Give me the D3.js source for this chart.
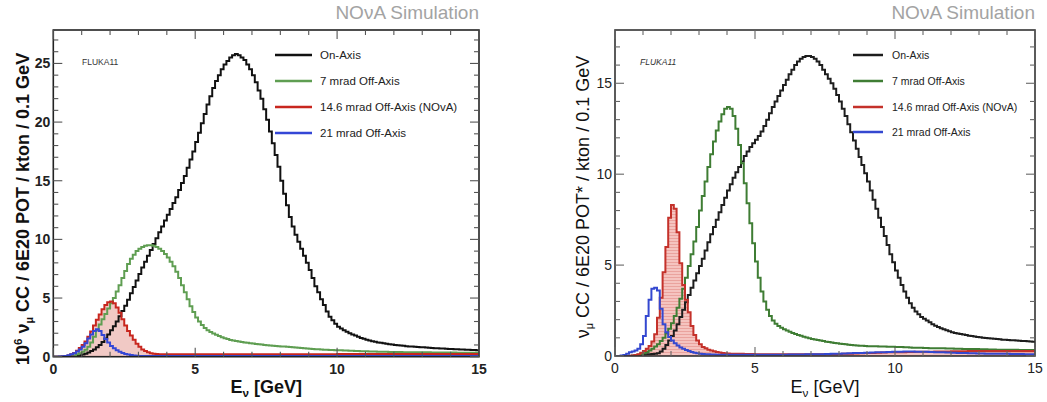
<!DOCTYPE html>
<html><head><meta charset="utf-8">
<script src="https://cdn.jsdelivr.net/npm/d3@7/dist/d3.min.js"></script>
<style>
html,body{margin:0;padding:0;background:#fff;}
svg{display:block;font-family:"Liberation Sans",Arial,sans-serif;}
</style></head><body>
<svg id="chart" width="1047" height="402"></svg>
<script>
// ---------- DATA (0.1 GeV bins, 0 .. 15 GeV) ----------
const binWidth = 0.1;
const seriesNames = ["On-Axis", "7 mrad Off-Axis", "14.6 mrad Off-Axis (NOvA)", "21 mrad Off-Axis"];
const legendNamesRight = ["On-Axis", "7 mrad Off-Axis", "14.6 mrad Off-Axis (NOvA)", "21 mrad Off-Axis"];
const xTicks = [0, 5, 10, 15];
const yTicksLeft = [0, 5, 10, 15, 20, 25];
const yTicksRight = [0, 5, 10, 15];

const leftOnAxis = [
0,0,0,0,0,0.02,0.03,0.05,0.08,0.12,
0.18,0.26,0.36,0.48,0.62,0.8,1.0,1.25,1.55,1.9,
2.25,2.6,3.0,3.45,3.9,4.35,4.85,5.4,5.95,6.5,
7.05,7.6,8.1,8.6,9.1,9.6,10.1,10.6,11.1,11.6,
12.1,12.6,13.1,13.6,14.2,14.8,15.4,16.1,16.8,17.5,
18.3,19.1,19.9,20.7,21.5,22.2,22.9,23.5,24.0,24.5,
24.9,25.2,25.5,25.7,25.8,25.7,25.5,25.3,24.9,24.5,
24.0,23.4,22.7,22.0,21.1,20.2,19.2,18.2,17.2,16.2,
15.0,13.9,12.9,11.9,11.1,10.4,9.8,9.2,8.6,8.0,
7.4,6.7,6.0,5.5,4.9,4.4,3.85,3.4,3.1,2.8,
2.55,2.4,2.25,2.12,2.0,1.9,1.8,1.7,1.6,1.52,
1.45,1.38,1.32,1.27,1.22,1.18,1.14,1.1,1.06,1.03,
1.0,0.98,0.95,0.93,0.9,0.88,0.86,0.85,0.83,0.81,
0.8,0.78,0.76,0.75,0.73,0.72,0.7,0.69,0.67,0.66,
0.65,0.64,0.63,0.62,0.61,0.6,0.59,0.58,0.57,0.56];

const left7mrad = [
0,0,0,0,0,0.01,0.04,0.1,0.2,0.3,
0.43,0.6,0.85,1.2,1.7,2.25,2.75,3.2,3.65,4.1,
4.55,5.0,5.55,6.1,6.7,7.3,7.9,8.35,8.7,9.0,
9.2,9.35,9.45,9.5,9.5,9.45,9.35,9.2,9.0,8.75,
8.45,8.1,7.7,7.25,6.7,6.1,5.5,4.9,4.3,3.8,
3.35,3.0,2.7,2.45,2.25,2.1,1.98,1.87,1.76,1.66,
1.57,1.5,1.43,1.38,1.33,1.29,1.25,1.21,1.18,1.15,
1.12,1.09,1.06,1.03,1.0,0.98,0.96,0.94,0.92,0.9,
0.88,0.86,0.84,0.82,0.8,0.78,0.76,0.74,0.72,0.7,
0.68,0.66,0.64,0.63,0.62,0.6,0.59,0.58,0.57,0.56,
0.55,0.54,0.53,0.52,0.51,0.5,0.49,0.48,0.47,0.46,
0.46,0.45,0.44,0.44,0.43,0.43,0.42,0.42,0.41,0.41,
0.4,0.4,0.4,0.39,0.39,0.39,0.38,0.38,0.38,0.37,
0.37,0.37,0.37,0.36,0.36,0.36,0.36,0.35,0.35,0.35,
0.35,0.35,0.34,0.34,0.34,0.34,0.34,0.33,0.33,0.33];

const left146mrad = [
0,0,0,0.02,0.05,0.1,0.2,0.32,0.5,0.75,
1.0,1.3,1.7,2.15,2.65,3.15,3.6,4.05,4.4,4.65,
4.7,4.55,4.2,3.75,3.2,2.65,2.2,1.8,1.45,1.1,
0.85,0.62,0.48,0.38,0.3,0.26,0.23,0.21,0.2,0.2,
0.2,0.2,0.2,0.2,0.2,0.2,0.2,0.2,0.2,0.2,
0.2,0.2,0.2,0.2,0.2,0.2,0.2,0.2,0.2,0.2,
0.2,0.2,0.2,0.2,0.2,0.2,0.2,0.2,0.2,0.2,
0.2,0.2,0.2,0.2,0.2,0.2,0.2,0.2,0.2,0.2,
0.21,0.21,0.21,0.21,0.21,0.21,0.21,0.21,0.21,0.21,
0.21,0.21,0.21,0.21,0.21,0.21,0.21,0.21,0.21,0.21,
0.22,0.22,0.22,0.22,0.22,0.22,0.22,0.22,0.22,0.22,
0.22,0.22,0.22,0.22,0.22,0.22,0.22,0.22,0.22,0.22,
0.23,0.23,0.23,0.23,0.23,0.23,0.23,0.23,0.23,0.23,
0.23,0.23,0.23,0.23,0.23,0.23,0.23,0.23,0.23,0.23,
0.24,0.24,0.24,0.24,0.24,0.24,0.24,0.24,0.24,0.24];

const left21mrad = [
0,0,0.01,0.03,0.06,0.12,0.2,0.3,0.45,0.62,
0.85,1.15,1.55,1.9,2.2,2.33,2.2,1.85,1.5,1.2,
0.92,0.72,0.55,0.42,0.32,0.24,0.18,0.14,0.1,0.08,
0.07,0.07,0.07,0.06,0.06,0.06,0.06,0.06,0.06,0.06,
0.06,0.06,0.06,0.06,0.06,0.06,0.06,0.06,0.06,0.06,
0.06,0.06,0.06,0.06,0.06,0.06,0.06,0.06,0.06,0.06,
0.06,0.06,0.06,0.06,0.06,0.06,0.06,0.06,0.06,0.06,
0.06,0.06,0.06,0.06,0.06,0.06,0.06,0.06,0.06,0.06,
0.06,0.06,0.06,0.06,0.06,0.06,0.06,0.06,0.06,0.06,
0.06,0.06,0.06,0.06,0.06,0.06,0.06,0.06,0.06,0.06,
0.06,0.06,0.06,0.06,0.06,0.06,0.06,0.06,0.06,0.06,
0.06,0.06,0.06,0.06,0.06,0.06,0.06,0.06,0.06,0.06,
0.06,0.06,0.06,0.06,0.06,0.06,0.06,0.06,0.06,0.06,
0.06,0.06,0.06,0.06,0.06,0.06,0.06,0.06,0.06,0.06,
0.06,0.06,0.06,0.06,0.06,0.06,0.06,0.06,0.06,0.06];

const rightOnAxis = [
0,0,0,0,0,0,0.02,0.03,0.05,0.07,
0.08,0.09,0.1,0.11,0.13,0.15,0.25,0.4,0.6,0.85,
1.1,1.4,1.75,2.15,2.55,2.95,3.35,3.75,4.15,4.55,
4.95,5.35,5.8,6.25,6.7,7.1,7.5,7.9,8.3,8.7,
9.1,9.45,9.8,10.1,10.4,10.7,11.0,11.25,11.5,11.7,
11.9,12.1,12.35,12.65,13.0,13.35,13.7,14.0,14.3,14.6,
14.9,15.2,15.5,15.75,16.0,16.2,16.35,16.45,16.5,16.5,
16.45,16.35,16.2,16.0,15.75,15.5,15.25,15.0,14.7,14.35,
14.0,13.6,13.2,12.75,12.3,11.85,11.4,10.95,10.5,10.05,
9.6,9.1,8.6,8.1,7.6,7.1,6.6,6.1,5.6,5.15,
4.7,4.3,3.9,3.55,3.2,2.9,2.65,2.45,2.3,2.15,
2.05,1.95,1.85,1.75,1.67,1.6,1.53,1.47,1.41,1.36,
1.31,1.27,1.24,1.21,1.18,1.15,1.12,1.1,1.07,1.05,
1.03,1.01,0.99,0.97,0.96,0.95,0.93,0.92,0.9,0.89,
0.88,0.87,0.86,0.85,0.84,0.83,0.82,0.81,0.8,0.79];

const right7mrad = [
0,0,0,0,0,0,0.02,0.04,0.07,0.1,
0.15,0.22,0.3,0.4,0.52,0.65,0.82,1.0,1.25,1.5,
1.8,2.2,2.65,3.15,3.7,4.3,4.95,5.6,6.3,7.1,
8.0,8.8,9.6,10.4,11.1,11.8,12.4,12.9,13.3,13.6,
13.7,13.6,13.2,12.5,11.6,10.6,9.5,8.4,7.3,6.2,
5.2,4.3,3.55,3.0,2.55,2.2,1.95,1.78,1.65,1.55,
1.47,1.4,1.33,1.27,1.21,1.16,1.11,1.06,1.02,0.98,
0.94,0.91,0.88,0.85,0.82,0.79,0.77,0.74,0.72,0.7,
0.68,0.66,0.64,0.62,0.6,0.59,0.58,0.57,0.56,0.55,
0.54,0.54,0.53,0.53,0.52,0.52,0.52,0.51,0.51,0.51,
0.5,0.5,0.49,0.48,0.48,0.47,0.46,0.46,0.45,0.45,
0.44,0.44,0.43,0.43,0.43,0.42,0.42,0.42,0.41,0.41,
0.41,0.4,0.4,0.4,0.39,0.39,0.39,0.38,0.38,0.38,
0.37,0.37,0.37,0.36,0.36,0.36,0.35,0.35,0.35,0.35,
0.34,0.34,0.34,0.34,0.33,0.33,0.33,0.33,0.33,0.33];

const right146mrad = [
0,0,0,0,0,0.01,0.03,0.05,0.1,0.18,
0.28,0.4,0.55,0.8,1.2,2.1,3.2,4.6,6.0,7.6,
8.3,8.1,6.8,5.1,3.9,3.1,2.4,1.65,1.15,0.85,
0.65,0.5,0.42,0.35,0.3,0.26,0.22,0.19,0.17,0.15,
0.14,0.13,0.13,0.12,0.12,0.12,0.11,0.11,0.11,0.11,
0.1,0.1,0.1,0.1,0.1,0.1,0.1,0.1,0.1,0.1,
0.1,0.1,0.1,0.1,0.1,0.1,0.1,0.1,0.1,0.1,
0.1,0.1,0.1,0.1,0.1,0.1,0.1,0.1,0.1,0.1,
0.11,0.12,0.12,0.13,0.13,0.14,0.14,0.15,0.15,0.16,
0.16,0.17,0.17,0.18,0.18,0.19,0.19,0.2,0.2,0.2,
0.2,0.21,0.21,0.21,0.22,0.22,0.22,0.23,0.23,0.23,
0.24,0.24,0.24,0.24,0.25,0.25,0.25,0.25,0.25,0.25,
0.26,0.26,0.26,0.26,0.26,0.26,0.27,0.27,0.27,0.27,
0.27,0.27,0.27,0.27,0.28,0.28,0.28,0.28,0.28,0.28,
0.28,0.28,0.28,0.28,0.28,0.28,0.28,0.28,0.28,0.28];

const right21mrad = [
0,0,0.03,0.06,0.12,0.2,0.25,0.3,0.4,0.65,
1.1,2.2,3.1,3.7,3.75,3.6,2.6,1.75,1.3,1.05,
0.85,0.7,0.58,0.47,0.4,0.33,0.27,0.22,0.18,0.15,
0.13,0.11,0.1,0.09,0.08,0.08,0.07,0.07,0.07,0.07,
0.07,0.07,0.07,0.07,0.07,0.07,0.07,0.07,0.07,0.07,
0.07,0.07,0.07,0.07,0.07,0.07,0.07,0.07,0.07,0.07,
0.07,0.07,0.08,0.08,0.08,0.08,0.08,0.08,0.09,0.09,
0.09,0.09,0.1,0.1,0.1,0.11,0.11,0.12,0.12,0.13,
0.13,0.14,0.14,0.15,0.15,0.16,0.16,0.17,0.17,0.18,
0.18,0.19,0.19,0.2,0.2,0.21,0.21,0.22,0.22,0.23,
0.23,0.24,0.24,0.25,0.25,0.25,0.25,0.24,0.24,0.24,
0.23,0.23,0.22,0.22,0.21,0.21,0.2,0.2,0.19,0.19,
0.18,0.18,0.17,0.17,0.16,0.16,0.15,0.15,0.15,0.14,
0.14,0.14,0.13,0.13,0.13,0.13,0.12,0.12,0.12,0.12,
0.12,0.11,0.11,0.11,0.11,0.11,0.1,0.1,0.1,0.1];

// ---------- DRAWING ----------
const svg = d3.select("#chart");
const defs = svg.append("defs");

function drawPanel(p) {
  const x = d3.scaleLinear().domain([0, 15]).range([p.x0, p.x1]);
  const y = d3.scaleLinear().domain([0, p.ymax]).range([p.y1, p.y0]);
  const g = svg.append("g");
  const clipId = "clip" + p.id;
  defs.append("clipPath").attr("id", clipId).append("rect")
    .attr("x", p.x0).attr("y", p.y0).attr("width", p.x1 - p.x0).attr("height", p.y1 - p.y0);

  const toPts = vals => {
    const pts = vals.map((v, i) => [i * binWidth, v]);
    pts.push([vals.length * binWidth, vals[vals.length - 1]]);
    return pts;
  };
  const line = d3.line().x(d => x(d[0])).y(d => y(d[1])).curve(d3.curveStepAfter);
  const area = d3.area().x(d => x(d[0])).y0(y(0)).y1(d => y(d[1])).curve(d3.curveStepAfter);

  const plot = g.append("g").attr("clip-path", `url(#${clipId})`);
  // red fill
  plot.append("path").datum(toPts(p.series[2])).attr("d", area)
    .attr("fill", p.fill).attr("stroke", "none");
  if (p.hatch) {
    plot.append("path").datum(toPts(p.series[2])).attr("d", area)
      .attr("fill", "url(#hatch)").attr("stroke", "none");
  }
  // draw order: black, green, red, blue
  const order = [0, 1, 2, 3];
  order.forEach(k => {
    plot.append("path").datum(toPts(p.series[k])).attr("d", line)
      .attr("fill", "none").attr("stroke", p.colors[k]).attr("stroke-width", p.lw)
      .attr("stroke-linejoin", "miter");
  });

  // frame
  g.append("rect").attr("x", p.x0).attr("y", p.y0).attr("width", p.x1 - p.x0).attr("height", p.y1 - p.y0)
    .attr("fill", "none").attr("stroke", p.frameColor).attr("stroke-width", 1.6);

  // ticks (ROOT style, inward on all four sides)
  const tk = g.append("g").attr("stroke", p.tickColor).attr("stroke-width", 1.1);
  d3.range(0, 16, 1).forEach(v => {
    const major = v % 5 === 0;
    const L = major ? p.majorLen : p.minorLen;
    tk.append("line").attr("x1", x(v)).attr("x2", x(v)).attr("y1", p.y1).attr("y2", p.y1 - L);
    tk.append("line").attr("x1", x(v)).attr("x2", x(v)).attr("y1", p.y0).attr("y2", p.y0 + L);
  });
  d3.range(0, Math.floor(p.ymax) + 1, 1).forEach(v => {
    const major = v % 5 === 0;
    const L = major ? p.majorLen : p.minorLen;
    tk.append("line").attr("y1", y(v)).attr("y2", y(v)).attr("x1", p.x0).attr("x2", p.x0 + L);
    tk.append("line").attr("y1", y(v)).attr("y2", y(v)).attr("x1", p.x1).attr("x2", p.x1 - L);
  });

  // tick labels
  xTicks.forEach(v => {
    g.append("text").attr("x", x(v)).attr("y", p.y1 + 17).attr("text-anchor", "middle")
      .attr("font-size", p.tickFont).attr("font-weight", p.tickWeight).attr("fill", "#222").text(v);
  });
  p.yTicks.forEach(v => {
    g.append("text").attr("x", p.x0 - 3).attr("y", y(v) + 5).attr("text-anchor", "end")
      .attr("font-size", p.tickFont).attr("font-weight", p.tickWeight).attr("fill", "#222").text(v);
  });

  // x title
  const xt = g.append("text").attr("x", (p.x0 + p.x1) / 2).attr("y", 393).attr("text-anchor", "middle")
    .attr("font-size", p.titleFont).attr("font-weight", p.titleWeight).attr("fill", "#111");
  xt.append("tspan").text("E");
  xt.append("tspan").attr("font-size", p.titleFont * 0.65).attr("dy", 4).text("ν");
  xt.append("tspan").attr("dy", -4).text(" [GeV]");

  // y title
  const yt = g.append("text").attr("transform", `translate(${p.ytX},${p.ytY}) rotate(-90)`)
    .attr("text-anchor", "middle").attr("font-size", p.titleFont).attr("font-weight", p.titleWeight).attr("fill", "#111");
  if (p.prefix) {
    yt.append("tspan").text("10");
    yt.append("tspan").attr("font-size", p.titleFont * 0.65).attr("dy", -7).text("6");
    yt.append("tspan").attr("dy", 7).text(" ν");
  } else {
    yt.append("tspan").text("ν");
  }
  yt.append("tspan").attr("font-size", p.titleFont * 0.6).attr("dy", 4).text("μ");
  yt.append("tspan").attr("dy", -4).text(p.ytRest);

  // NOvA Simulation
  g.append("text").attr("x", p.x1).attr("y", 19).attr("text-anchor", "end")
    .attr("font-size", 19).attr("fill", "#a3a3a3").text("NOνA Simulation");

  // FLUKA11
  g.append("text").attr("x", p.flukaX).attr("y", 65).attr("font-size", 8.5)
    .attr("fill", "#333").attr("font-style", p.flukaItalic ? "italic" : "normal").text("FLUKA11");

  // legend
  p.legendNames.forEach((name, k) => {
    const ly = p.legY[k];
    g.append("line").attr("x1", p.legX0).attr("x2", p.legX1).attr("y1", ly).attr("y2", ly)
      .attr("stroke", p.colors[k]).attr("stroke-width", p.legLw);
    g.append("text").attr("x", p.legTX).attr("y", ly + 4).attr("font-size", p.legFont)
      .attr("fill", "#222").text(name);
  });
}

// hatch pattern for the right panel
const pat = defs.append("pattern").attr("id", "hatch").attr("patternUnits", "userSpaceOnUse")
  .attr("width", 6).attr("height", 3);
pat.append("line").attr("x1", 0).attr("x2", 6).attr("y1", 1.5).attr("y2", 1.5)
  .attr("stroke", "#e79a95").attr("stroke-width", 0.8);

drawPanel({
  id: "L", x0: 53.3, x1: 479, y0: 30, y1: 356.7, ymax: 27.85,
  series: [leftOnAxis, left7mrad, left146mrad, left21mrad],
  colors: ["#111111", "#5f9e52", "#c8261e", "#3447d6"],
  fill: "#f1c9c5", hatch: false, lw: 2,
  frameColor: "#222", tickColor: "#555", majorLen: 9, minorLen: 5,
  yTicks: yTicksLeft, tickFont: 14, tickWeight: "bold", titleFont: 18, titleWeight: "bold",
  prefix: true, ytRest: " CC / 6E20 POT / kton / 0.1 GeV", ytX: 29, ytY: 209,
  flukaX: 82, flukaItalic: false,
  legendNames: seriesNames, legX0: 275, legX1: 312, legTX: 320, legY: [55, 81, 107, 133], legFont: 11.5, legLw: 2.5
});

drawPanel({
  id: "R", x0: 615, x1: 1035, y0: 30, y1: 356, ymax: 17.93,
  series: [rightOnAxis, right7mrad, right146mrad, right21mrad],
  colors: ["#1d1d1d", "#3f7d34", "#c4312a", "#3448d0"],
  fill: "#f5c4c0", hatch: true, lw: 2,
  frameColor: "#333", tickColor: "#666", majorLen: 9, minorLen: 5,
  yTicks: yTicksRight, tickFont: 14, tickWeight: "normal", titleFont: 18, titleWeight: "normal",
  prefix: false, ytRest: " CC / 6E20 POT* / kton / 0.1 GeV", ytX: 589, ytY: 197,
  flukaX: 640, flukaItalic: true,
  legendNames: legendNamesRight, legX0: 853, legX1: 883, legTX: 892, legY: [55, 81, 107, 132], legFont: 10.5, legLw: 2.5
});
</script>
</body></html>
